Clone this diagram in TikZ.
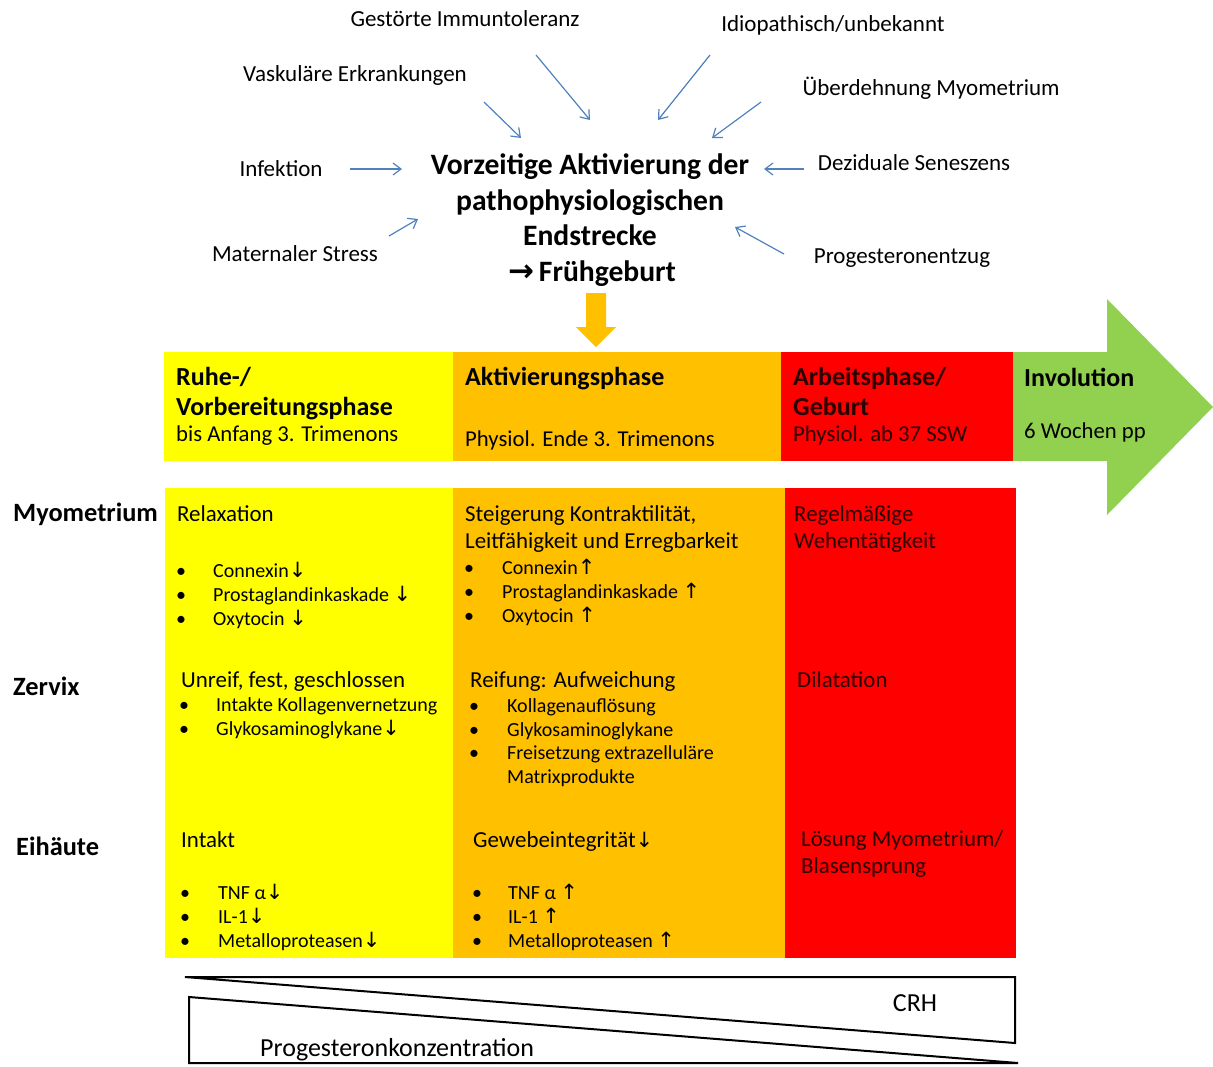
\documentclass[tikz,border=0pt]{standalone}
\usepackage{fontspec}
\setmainfont{Carlito}
\newfontfamily\arrf{DejaVu Sans}
\usetikzlibrary{arrows.meta}
\definecolor{cyel}{HTML}{FFFF00}
\definecolor{cora}{HTML}{FFC000}
\definecolor{cred}{HTML}{FF0000}
\definecolor{cgrn}{HTML}{92D050}
\definecolor{cblu}{HTML}{4F81BD}
\definecolor{redtxt}{HTML}{2A0000}
\newcommand{\arrdn}{{\arrf\fontsize{21}{23}\selectfont ↓}}
\newcommand{\arrup}{{\arrf\fontsize{21}{23}\selectfont ↑}}
\newcommand{\bitem}[5]{\node[bul,anchor=base] (#1b) at (#2,#4) {•}; \node[bul] (#1) at (#3,#4) {#5};}
\tikzset{
 lbl/.style={anchor=base west, inner sep=0pt, font=\fontsize{22.9}{26}\selectfont},
 bul/.style={anchor=base west, inner sep=0pt, font=\fontsize{20}{23}\selectfont},
 ban/.style={anchor=base west, inner sep=0pt, font=\bfseries\fontsize{26}{30}\selectfont},
 bans/.style={anchor=base west, inner sep=0pt, font=\fontsize{22.7}{26}\selectfont},
 cause/.style={anchor=base, inner sep=0pt, font=\fontsize{23}{26}\selectfont},
 ttl/.style={anchor=base, inner sep=0pt, font=\bfseries\fontsize{29.6}{34}\selectfont},
 rowlbl/.style={anchor=base west, inner sep=0pt, font=\bfseries\fontsize{26.4}{30}\selectfont},
 bot/.style={anchor=base west, inner sep=0pt, font=\fontsize{26}{30}\selectfont},
 barr/.style={draw=cblu, line width=1.2pt, -{Straight Barb[length=8pt,width=12pt]}},
 tri/.style={draw=black, line width=2pt},
}
\begin{document}
\begin{tikzpicture}[x=1pt,y=-1pt]
\useasboundingbox (0,0) rectangle (1213,1066);
% causes
\node[cause] (c1) at (465,26.5) {Gestörte Immuntoleranz};
\node[cause] (c2) at (833,31) {Idiopathisch/unbekannt};
\node[cause] (c3) at (355,81) {Vaskuläre Erkrankungen};
\node[cause] (c4) at (931,95) {Überdehnung Myometrium};
\node[cause] (c5) at (281,176) {Infektion};
\node[cause] (c6) at (914,170) {Deziduale Seneszens};
\node[cause] (c7) at (295,261) {Maternaler Stress};
\node[cause] (c8) at (902,263) {Progesteronentzug};
% title
\node[ttl] (t1) at (590,174.5) {Vorzeitige Aktivierung der};
\node[ttl] (t2) at (590,210) {pathophysiologischen};
\node[ttl] (t3) at (590,245) {Endstrecke};
\node[ttl] (t4) at (592,281.5) {{\arrf\bfseries\fontsize{31}{34}\selectfont →}\,Frühgeburt};
% cause arrows
\coordinate (a1s) at (536,55);  \coordinate (a1e) at (590,120);
\coordinate (a2s) at (710,55);  \coordinate (a2e) at (658,120);
\coordinate (a3s) at (484,102); \coordinate (a3e) at (521,138);
\coordinate (a4s) at (761,102); \coordinate (a4e) at (712,138);
\coordinate (a5s) at (350,169); \coordinate (a5e) at (402,169);
\coordinate (a6s) at (804,169); \coordinate (a6e) at (764,169);
\coordinate (a7s) at (389,236); \coordinate (a7e) at (418,219);
\coordinate (a8s) at (784,254); \coordinate (a8e) at (735,227);
\foreach \i in {1,...,8} {\draw[barr] (a\i s) -- (a\i e);}
% orange down arrow
\fill[cora] (586,293) -- (606,293) -- (606,327) -- (616,327) -- (596,347) -- (576,327) -- (586,327) -- cycle;
% banner
\fill[cyel] (164,352) rectangle (453,461);
\fill[cora] (453,352) rectangle (781,461);
\fill[cred] (781,352) rectangle (1013,461);
\fill[cgrn] (1013,352) -- (1107,352) -- (1107,299) -- (1213,407) -- (1107,515) -- (1107,461) -- (1013,461) -- cycle;
\node[ban] (b1a) at (176,385) {Ruhe-/};
\node[ban] (b1b) at (176,415) {Vorbereitungsphase};
\node[bans] (b1c) at (176,441) {bis Anfang 3. Trimenons};
\node[ban] (b2a) at (465,385) {Aktivierungsphase};
\node[bans] (b2c) at (465,446) {Physiol. Ende 3. Trimenons};
\node[ban,text=redtxt] (b3a) at (793,385) {Arbeitsphase/};
\node[ban,text=redtxt] (b3b) at (793,415) {Geburt};
\node[bans,text=redtxt] (b3c) at (793,441) {Physiol. ab 37 SSW};
\node[ban] (b4a) at (1024,386) {Involution};
\node[bans] (b4c) at (1024,438) {6 Wochen pp};
% table
\fill[cyel] (165,488) rectangle (453,958);
\fill[cora] (453,488) rectangle (785,958);
\fill[cred] (785,488) rectangle (1016,958);
\node[rowlbl] (r1) at (13,521.5) {Myometrium};
\node[rowlbl] (r2) at (13,695.5) {Zervix};
\node[rowlbl] (r3) at (16,855.5) {Eihäute};
% yellow column
\node[lbl] (y1) at (177,521) {Relaxation};
\bitem{y1a}{181}{213}{577}{Connexin\arrdn}
\bitem{y1b}{181}{213}{601}{Prostaglandinkaskade \arrdn}
\bitem{y1c}{181}{213}{625}{Oxytocin \arrdn}
\node[lbl] (y2) at (181,687) {Unreif, fest, geschlossen};
\bitem{y2a}{184}{216}{711}{Intakte Kollagenvernetzung}
\bitem{y2b}{184}{216}{735}{Glykosaminoglykane\arrdn}
\node[lbl] (y3) at (181,847) {Intakt};
\bitem{y3a}{185}{218}{899}{TNF α\arrdn}
\bitem{y3b}{185}{218}{923}{IL-1\arrdn}
\bitem{y3c}{185}{218}{947}{Metalloproteasen\arrdn}
% orange column
\node[lbl] (o1) at (465,521) {Steigerung Kontraktilität,};
\node[lbl] (o1l) at (465,548) {Leitfähigkeit und Erregbarkeit};
\bitem{o1a}{469}{502}{574}{Connexin\arrup}
\bitem{o1b}{469}{502}{598}{Prostaglandinkaskade \arrup}
\bitem{o1c}{469}{502}{622}{Oxytocin \arrup}
\node[lbl] (o2) at (470,687) {Reifung: Aufweichung};
\bitem{o2a}{474}{507}{712}{Kollagenauflösung}
\bitem{o2b}{474}{507}{736}{Glykosaminoglykane}
\bitem{o2c}{474}{507}{759}{Freisetzung extrazelluläre}
\node[bul] (o2d) at (507,783) {Matrixprodukte};
\node[lbl] (o3) at (473,847) {Gewebeintegrität\arrdn};
\bitem{o3a}{477}{508}{899}{TNF α \arrup}
\bitem{o3b}{477}{508}{923}{IL-1 \arrup}
\bitem{o3c}{477}{508}{947}{Metalloproteasen \arrup}
% red column
\node[lbl,text=redtxt] (d1) at (794,521) {Regelmäßige};
\node[lbl,text=redtxt] (d1l) at (794,548) {Wehentätigkeit};
\node[lbl,text=redtxt] (d2) at (797,687) {Dilatation};
\node[lbl,text=redtxt] (d3) at (801,846) {Lösung Myometrium/};
\node[lbl,text=redtxt] (d3l) at (801,873) {Blasensprung};
% bottom wedges
\draw[tri] (185,977) -- (1015,977) -- (1015,1043) -- cycle;
\draw[tri] (189,997) -- (189,1063) -- (1018,1063) -- cycle;
\node[bot,anchor=base] (crh) at (915,1011) {CRH};
\node[bot] (prog) at (260,1056) {Progesteronkonzentration};
\end{tikzpicture}
\end{document}
